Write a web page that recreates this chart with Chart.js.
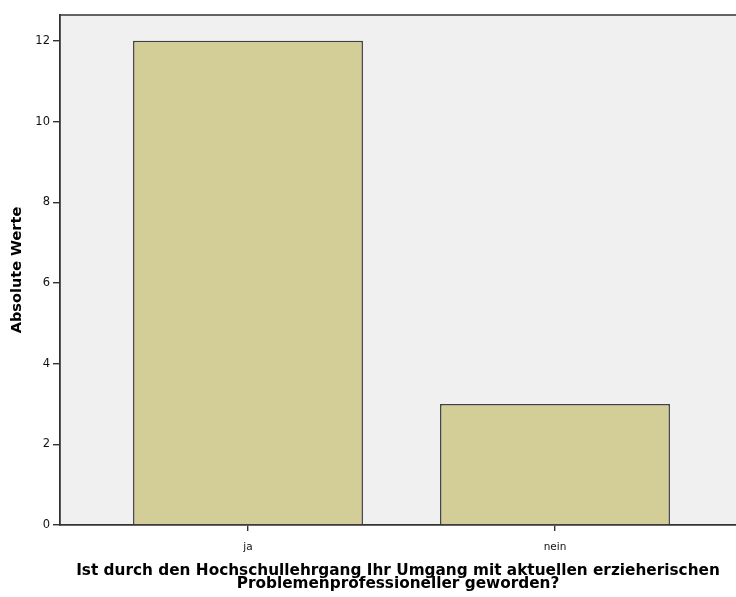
<!DOCTYPE html>
<html>
<head>
<meta charset="utf-8">
<style>
  html, body { margin: 0; padding: 0; background: #ffffff; overflow: hidden; }
  #wrap { width: 736px; height: 597px; position: relative; }
</style>
<script src="https://cdn.jsdelivr.net/npm/chart.js@4/dist/chart.umd.min.js"></script>
</head>
<body>
<div id="wrap"><canvas id="c" width="736" height="597"></canvas></div>
<script>
// ---- data ----
const categories = ['ja', 'nein'];
const values = [12, 3];
const yTicks = [0, 2, 4, 6, 8, 10, 12];
const yAxisTitle = 'Absolute Werte';
const xAxisTitle = ['Ist durch den Hochschullehrgang Ihr Umgang mit aktuellen erzieherischen',
                    'Problemenprofessioneller geworden?'];

const points = categories.map((c, i) => ({ x: i, y: values[i] }));

const plotBg = {
  id: 'plotBg',
  beforeDraw(chart) {
    const { ctx, chartArea: a } = chart;
    ctx.save();
    ctx.fillStyle = '#f0f0f0';
    ctx.fillRect(a.left, a.top, a.right - a.left, a.bottom - a.top);
    ctx.restore();
  },
  afterDraw(chart) {
    const { ctx, chartArea: a } = chart;
    ctx.save();
    ctx.strokeStyle = '#333333';
    ctx.lineWidth = 1.6;
    ctx.beginPath();
    ctx.moveTo(a.left, a.top);
    ctx.lineTo(a.right, a.top);
    ctx.stroke();
    ctx.restore();
  }
};

new Chart(document.getElementById('c'), {
  type: 'bar',
  data: {
    datasets: [{
      data: points,
      backgroundColor: '#d3ce97',
      borderColor: '#404040',
      borderWidth: 1.5,
      categoryPercentage: 1,
      barPercentage: 0.749
    }]
  },
  options: {
    responsive: false,
    animation: false,
    devicePixelRatio: 1,
    layout: { padding: { left: 0, right: 0, top: 15, bottom: 0 } },
    plugins: { legend: { display: false }, tooltip: { enabled: false } },
    scales: {
      x: {
        type: 'linear',
        offset: false,
        min: -0.6124,
        max: 1.5896,
        afterBuildTicks(scale) { scale.ticks = categories.map((c, i) => ({ value: i })); },
        afterFit(scale) { scale.height = 72; },
        ticks: {
          callback: (v) => categories[v],
          color: '#111',
          font: { family: 'DejaVu Sans', size: 10.5 },
          padding: 10,
          maxRotation: 0,
          autoSkip: false
        },
        grid: { display: true, offset: false, drawOnChartArea: false, drawTicks: true, tickLength: 6, color: '#333', lineWidth: 1.4 },
        border: { display: true, color: '#333', width: 1.8 },
        title: {
          display: true,
          text: xAxisTitle,
          color: '#000',
          font: { family: 'DejaVu Sans', size: 15.3, weight: 'bold', lineHeight: 0.86 },
          padding: { top: 0, bottom: 6 }
        }
      },
      y: {
        type: 'linear',
        min: 0,
        max: 12.64,
        afterBuildTicks(scale) { scale.ticks = yTicks.map(v => ({ value: v })); },
        afterFit(scale) { scale.width = 60; },
        ticks: {
          color: '#111',
          font: { family: 'DejaVu Sans', size: 11.5 },
          padding: 3
        },
        grid: { display: true, drawOnChartArea: false, drawTicks: true, tickLength: 7, color: '#333', lineWidth: 1.4 },
        border: { display: true, color: '#333', width: 1.8 },
        title: {
          display: true,
          text: yAxisTitle,
          color: '#000',
          font: { family: 'DejaVu Sans', size: 14.5, weight: 'bold', lineHeight: 1.2 },
          padding: { top: 9, bottom: 0 }
        }
      }
    }
  },
  plugins: [plotBg]
});
</script>
</body>
</html>
